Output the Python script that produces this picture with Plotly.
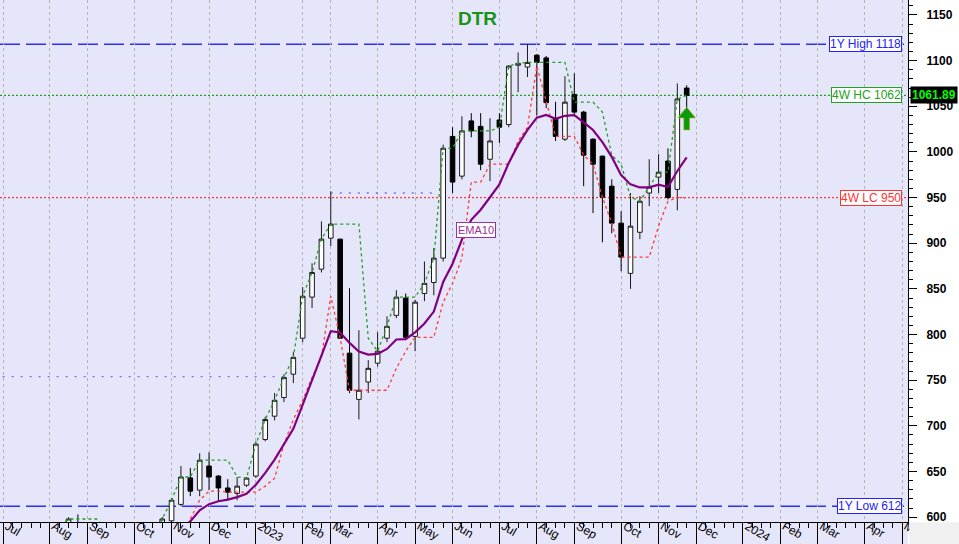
import numpy as np
import pandas as pd
import plotly.graph_objects as go

# ---------------- data (weekly bars, first bar = week of 2022-07-01) ----------------
start_date = "2022-07-01"
opens = [575, 580, 585, 578, 588, 583, 590, 586, 592, 585, 575, 568, 560, 550, 545, 540, 548,
         590, 596, 614, 643, 629.6, 656, 645, 632, 626, 635, 645, 685, 710.6, 731, 756.6,
         796, 841, 871.6, 905.6, 904.5, 779.6, 729, 748, 768.7, 796, 821, 840, 798, 845, 857,
         883.7, 1017, 973.5, 1034, 1028, 992, 1035, 1030, 1095, 1093, 1106, 1103, 1037, 1014,
         1063, 1043.6, 1014, 995.4, 962.5, 922, 867, 912, 955, 972.4, 990, 959, 1070]
highs = [588, 590, 589, 592, 591, 593, 592, 600, 603, 589, 580, 572, 563, 556, 550, 552, 560,
         600, 621, 656, 654, 670, 671, 646, 641.6, 644, 644, 683, 710, 736, 756.6, 780.7,
         852, 878, 924, 957, 905, 850.8, 804.8, 772, 802.6, 820, 848.6, 845, 838, 880, 894.6,
         1008, 1027, 1039, 1042.5, 1042.5, 1037, 1042.5, 1095, 1109, 1118, 1107, 1105, 1055, 1083,
         1086, 1045, 1015, 996, 970, 935, 955, 951.6, 992, 997.6, 1004, 1075, 1073]
lows = [570, 575, 574, 575, 578, 580, 581, 584, 580, 570, 563, 556, 545, 540, 532, 536, 544,
        585, 590, 612, 623, 623, 629.6, 618, 618.6, 618.6, 633, 643, 683, 706, 726, 746.8,
        791.7, 829, 868, 897, 796, 735.8, 707, 736, 765, 791.7, 818, 794, 781.8, 836.6, 843,
        880, 955, 970, 1016, 980, 968, 1009.6, 1027, 1065.5, 1082, 1040, 1048, 1012, 1012,
        1040, 962.5, 933, 901, 911, 869.4, 850, 904.5, 940.6, 955, 948, 936, 1043]
closes = [580, 585, 578, 588, 583, 590, 586, 598, 585, 575, 568, 560, 550, 545, 540, 548, 555,
          598, 618.6, 644, 628.5, 662.4, 644, 632, 627.4, 634, 642.7, 680, 707, 728, 753, 775,
          842, 868, 904.5, 921, 796, 739, 739, 763, 781.8, 809, 841, 797, 835.5, 856, 883.7,
          1004, 967, 1023, 1023, 986.6, 1012, 1027, 1094, 1097, 1098, 1098, 1054, 1017, 1054.5,
          1043.6, 996.5, 986.6, 950.5, 922, 884.8, 918.7, 946, 961.4, 977.8, 950, 1058, 1061.89]

# month tick labels (positions as dates of the first weekly bar shown for each month)
month_tick_dates = ["2022-07-01", "2022-08-05", "2022-09-02", "2022-10-07", "2022-11-04",
                    "2022-12-02", "2023-01-06", "2023-02-10", "2023-03-03", "2023-04-07",
                    "2023-05-05", "2023-06-02", "2023-07-07", "2023-08-04", "2023-09-01",
                    "2023-10-06", "2023-11-03", "2023-12-01", "2024-01-05", "2024-02-02",
                    "2024-03-01", "2024-04-05", "2024-05-03"]
month_tick_labels = ["Jul", "Aug", "Sep", "Oct", "Nov", "Dec", "2023", "Feb", "Mar", "Apr",
                     "May", "Jun", "Jul", "Aug", "Sep", "Oct", "Nov", "Dec", "2024", "Feb",
                     "Mar", "Apr", "May"]

# reference levels
high_1y = 1118
low_1y = 612
hc_4w = 1062
lc_4w = 950
last_price = 1061.89
# prior-high resistance segments: level, first bar date, last bar date
prior_high_levels = [754, 955]
prior_high_from = ["2022-06-24", "2023-03-03"]
prior_high_to = ["2023-01-27", "2023-05-19"]
# buy-signal arrow: bar date and base price
signal_date = "2023-11-24"
signal_base = 1024

# ---------------- derived ----------------
n = len(closes)
t0 = pd.Timestamp(start_date)
xi = np.arange(n)


def week_index(d):
    return (pd.Timestamp(d) - t0).days / 7.0


tickvals = [week_index(d) for d in month_tick_dates]
cs = pd.Series(closes)
hc_line = cs.rolling(4).max()
lc_line = cs.rolling(4).min()
ema10 = cs.ewm(span=10, adjust=False).mean()

BG = "#E6E6FA"
fig = go.Figure()

fig.add_trace(go.Candlestick(
    x=xi, open=opens, high=highs, low=lows, close=closes,
    increasing=dict(line=dict(color="#1a1a1a", width=1), fillcolor="#FFFFFF"),
    decreasing=dict(line=dict(color="#000000", width=1), fillcolor="#000000"),
    whiskerwidth=0, showlegend=False, hoverinfo="skip"))

for lvl, a, b in zip(prior_high_levels, prior_high_from, prior_high_to):
    fig.add_trace(go.Scatter(x=[week_index(a), week_index(b)], y=[lvl, lvl], mode="lines",
                             line=dict(color="#7070E8", width=1.3, dash="2px,7px"),
                             showlegend=False, hoverinfo="skip"))

fig.add_trace(go.Scatter(x=xi, y=hc_line, mode="lines",
                         line=dict(color="#22A022", width=1.3, dash="3px,3px"),
                         showlegend=False, hoverinfo="skip"))
fig.add_trace(go.Scatter(x=xi, y=lc_line, mode="lines",
                         line=dict(color="#FF3B3B", width=1.3, dash="3px,3px"),
                         showlegend=False, hoverinfo="skip"))
fig.add_trace(go.Scatter(x=xi, y=ema10, mode="lines",
                         line=dict(color="#800080", width=2.2),
                         showlegend=False, hoverinfo="skip"))

# horizontal level lines
for lvl, col, dash, w in [(high_1y, "#2E2EF0", "20px,6px", 1.6),
                          (low_1y, "#2E2EF0", "20px,6px", 1.6),
                          (hc_4w, "#22A022", "2px,2px", 1.2),
                          (lc_4w, "#FF3B3B", "2px,2px", 1.2)]:
    fig.add_shape(type="line", xref="paper", x0=0, x1=1, yref="y", y0=lvl, y1=lvl,
                  line=dict(color=col, width=w, dash=dash), layer="below")

# level tags
for txt, lvl, col in [(f"1Y High {high_1y}", high_1y, "#2222FF"),
                      (f"4W HC {hc_4w}", hc_4w, "#22A022"),
                      (f"4W LC {lc_4w}", lc_4w, "#FF3333"),
                      (f"1Y Low {low_1y}", low_1y, "#2222FF")]:
    fig.add_annotation(x=1, xref="paper", y=lvl, yref="y", text=txt, showarrow=False,
                       xanchor="right", xshift=-6, font=dict(family="Liberation Sans", size=12, color=col),
                       bgcolor="#FFFFFF", bordercolor=col, borderwidth=1, borderpad=0)

# last price tag
fig.add_annotation(x=1, xref="paper", y=last_price, yref="y", text=f"<b>{last_price}</b>",
                   showarrow=False, xanchor="left", xshift=2,
                   font=dict(family="Liberation Sans", size=12, color="#00FF00"),
                   bgcolor="#000000", borderpad=1)

# EMA label
fig.add_annotation(x=week_index("2023-06-16") + 0.5, y=915, text="EMA10", showarrow=False,
                   font=dict(family="Liberation Sans", size=11, color="#993399"),
                   bgcolor="#FFFFFF", bordercolor="#993399", borderwidth=1, borderpad=1)

# signal arrow (pixel-sized glyph anchored at the signal bar)
fig.add_shape(type="path", xref="x", yref="y", xsizemode="pixel", ysizemode="pixel",
              xanchor=week_index(signal_date), yanchor=signal_base,
              path="M -3,0 L 3,0 L 3,12 L 9,12 L 0,23 L -9,12 L -3,12 Z",
              fillcolor="#0A9A0A", line=dict(color="#C8C040", width=0.6), layer="above")

# title
fig.add_annotation(x=0.526, xref="paper", y=1, yref="paper", yanchor="top", yshift=-6,
                   text="<b>DTR</b>", showarrow=False,
                   font=dict(family="Liberation Sans", size=19, color="#179317"))

# bottom label strip and corner
fig.add_shape(type="rect", xref="paper", yref="paper", x0=0, x1=1, y0=-0.05, y1=0,
              fillcolor=BG, line=dict(width=0), layer="below")
fig.add_shape(type="rect", xref="paper", yref="paper", x0=1.0015, x1=1.06, y0=-0.05, y1=-0.0005,
              fillcolor="#F0F0F0", line=dict(width=0), layer="above")

fig.update_layout(
    width=959, height=544,
    margin=dict(l=0, r=51, t=0, b=22, autoexpand=False),
    paper_bgcolor="#FFFFFF", plot_bgcolor=BG,
    showlegend=False,
    xaxis=dict(range=[-0.32, 96.63], rangeslider=dict(visible=False), automargin=False,
               tickmode="array", tickvals=tickvals, ticktext=month_tick_labels,
               ticks="outside", ticklen=22, tickcolor="#000000", tickwidth=1,
               ticklabelposition="outside right", ticklabelstandoff=-8, ticklabelshift=3,
               tickfont=dict(family="Liberation Sans", size=12, color="#000000"),
               showgrid=True, gridcolor="#B4B4B4", griddash="dot", gridwidth=1,
               showline=True, linecolor="#000000", linewidth=1, zeroline=False,
               minor=dict(tickmode="linear", tick0=0, dtick=1, ticks="outside", ticklen=5,
                          tickcolor="#000000", showgrid=False)),
    yaxis=dict(range=[594.7, 1166.4], side="right", tickmode="linear", tick0=600, dtick=50,
               automargin=False,
               ticks="outside", ticklen=8, tickcolor="#000000", ticklabelstandoff=7,
               tickfont=dict(family="Liberation Sans", size=12, color="#000000", weight="bold"),
               showgrid=False, zeroline=False, showline=True, linecolor="#000000", linewidth=1,
               minor=dict(tickmode="linear", tick0=600, dtick=10, ticks="outside", ticklen=4,
                          tickcolor="#000000", showgrid=False)),
)

fig.write_html("out.html", config={"displayModeBar": False},
               post_script="document.body.style.margin='0';")
